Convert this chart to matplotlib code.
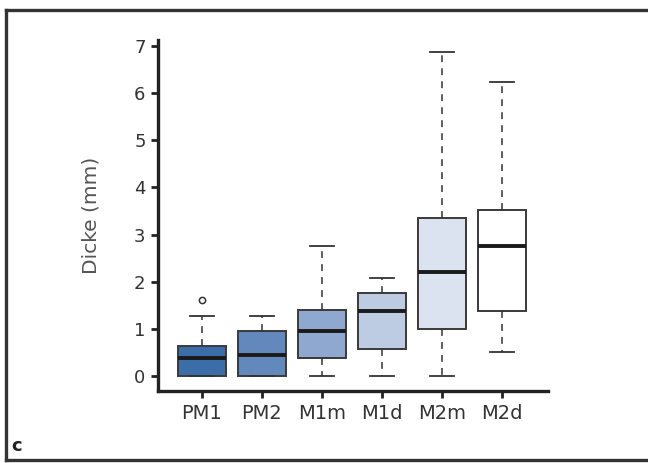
import matplotlib
matplotlib.use('Agg')
import matplotlib.pyplot as plt
from matplotlib.lines import Line2D

# ── Daten ────────────────────────────────────────────────────────────────────
gruppen  = ['PM1', 'PM2', 'M1m', 'M1d', 'M2m', 'M2d']
whislo   = [0.0, 0.0, 0.0, 0.0, 0.0, 0.50]
q1       = [0.0, 0.0, 0.38, 0.57, 1.00, 1.37]
median   = [0.38, 0.44, 0.96, 1.37, 2.20, 2.75]
q3       = [0.63, 0.96, 1.41, 1.76, 3.36, 3.52]
whishi   = [1.28, 1.28, 2.75, 2.08, 6.88, 6.25]
ausreisser = [[1.62], [], [], [], [], []]
farben   = ['#3b6ea8', '#6388bc', '#8fa8cf', '#bdcbe3', '#dce3f0', '#ffffff']

stats = []
for i, g in enumerate(gruppen):
    stats.append(dict(label=g, whislo=whislo[i], q1=q1[i], med=median[i],
                      q3=q3[i], whishi=whishi[i], fliers=ausreisser[i]))

fig = plt.figure(figsize=(6.48, 4.63), dpi=100)
ax = fig.add_axes([0.244, 0.1555, 0.602, 0.758])

bp = ax.bxp(stats, positions=range(1, 7), widths=0.8, capwidths=0.4,
            patch_artist=True,
            boxprops=dict(edgecolor='#3a3a3a', linewidth=1.4),
            medianprops=dict(color='#1a1a1a', linewidth=2.8),
            whiskerprops=dict(color='#333333', linewidth=1.1, linestyle=(0, (4.5, 4))),
            capprops=dict(color='#333333', linewidth=1.3),
            flierprops=dict(marker='o', markersize=4.5, markerfacecolor='white',
                            markeredgecolor='#333333', markeredgewidth=1.1))
for patch, c in zip(bp['boxes'], farben):
    patch.set_facecolor(c)

ax.set_xlim(0.27, 6.77)
ax.set_ylim(-0.32, 7.13)
ax.set_yticks(range(0, 8))

for s in ['top', 'right']:
    ax.spines[s].set_visible(False)
for s in ['left', 'bottom']:
    ax.spines[s].set_linewidth(2.4)
    ax.spines[s].set_color('#222222')

ax.tick_params(axis='both', direction='out', length=5, width=2,
               color='#222222', labelsize=13, labelcolor='#333333', pad=4)
ax.tick_params(axis='x', labelsize=14)
ax.set_ylabel('Dicke (mm)', fontsize=14.5, color='#555555', labelpad=24)

# ── Rahmen und Buchstabe ─────────────────────────────────────────────────────
x0, y0, y1 = 6 / 648, 1 - 460 / 463, 1 - 10 / 463
for xs, ys in [([x0, 1.0], [y1, y1]), ([x0, x0], [y0, y1]), ([x0, 1.0], [y0, y0])]:
    fig.add_artist(Line2D(xs, ys, transform=fig.transFigure,
                          color='#333333', linewidth=2.4))
fig.text(0.018, 0.025, 'c', fontsize=13, fontweight='bold', color='#222222')

fig.savefig('out.png', dpi=100)
